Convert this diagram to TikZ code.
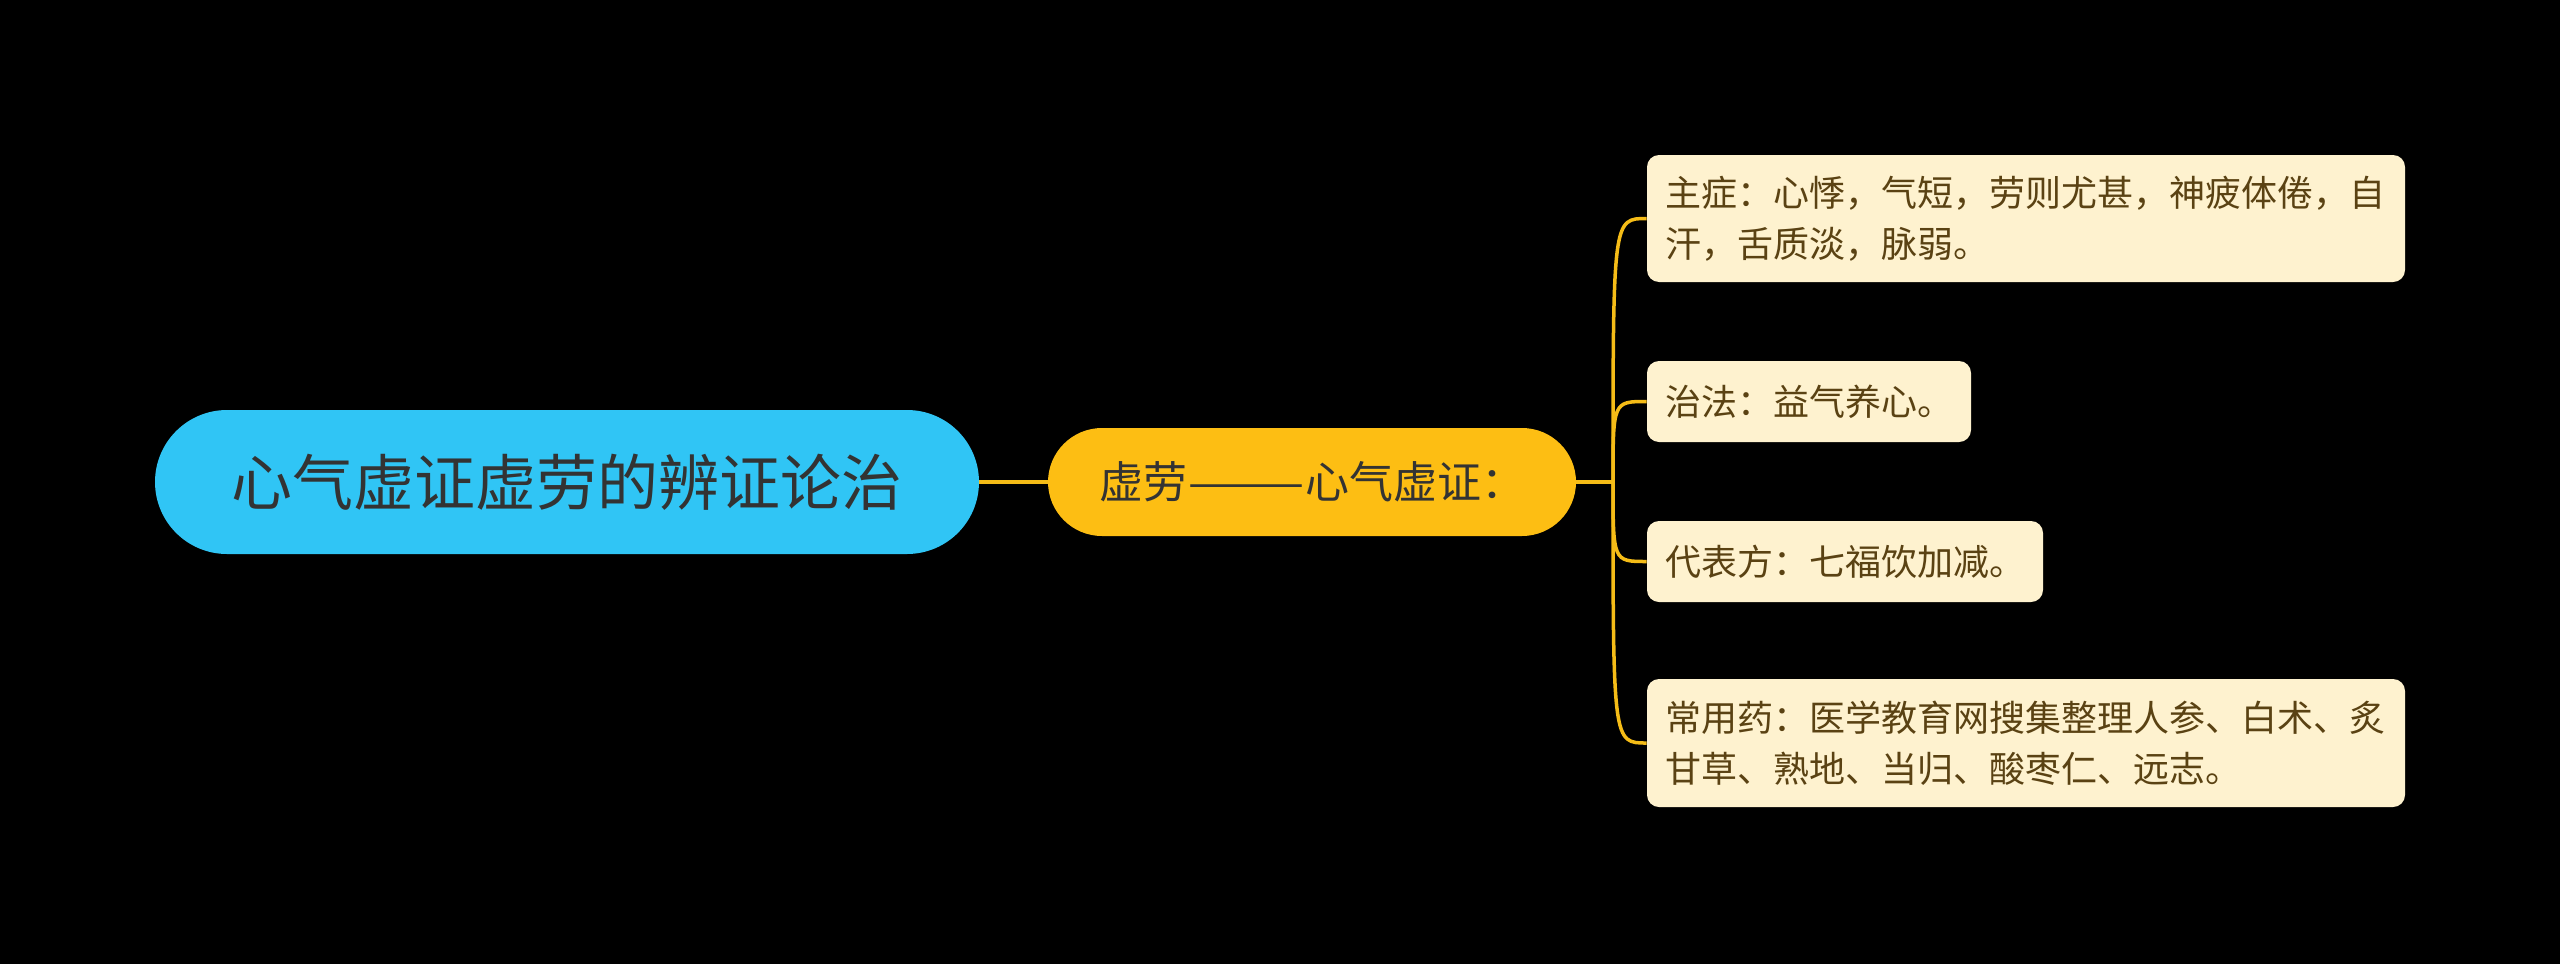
\documentclass[tikz,border=0pt]{standalone}
\usepackage{fontspec}
\newfontfamily\cjk{Noto Sans CJK SC}
\definecolor{bg}{HTML}{000000}
\definecolor{rootfill}{HTML}{30C5F5}
\definecolor{subfill}{HTML}{FDBE13}
\definecolor{leaffill}{HTML}{FEF2CF}
\definecolor{leaftext}{HTML}{5A4213}
\definecolor{darktext}{HTML}{333333}
\definecolor{linecol}{HTML}{F5BC17}
\tikzset{
  rootbox/.style={fill=rootfill, rounded corners=36pt, minimum width=412pt, minimum height=72pt,
    inner sep=0pt, text=darktext, font=\cjk\fontsize{30.5pt}{36pt}\selectfont},
  subbox/.style={fill=subfill, rounded corners=27pt, minimum width=264pt, minimum height=54pt,
    inner sep=0pt, text=darktext, font=\cjk\fontsize{22pt}{26pt}\selectfont},
  leafbox/.style={fill=leaffill, rounded corners=6pt, inner xsep=9pt, inner ysep=0pt,
    text=leaftext, align=left, font=\cjk\fontsize{18pt}{25.5pt}\selectfont},
  link/.style={draw=linecol, line width=1.75pt},
}
\begin{document}
\begin{tikzpicture}[x=0.5pt, y=-0.5pt]
\useasboundingbox[fill=bg] (0,0) rectangle (2560,964);
\node[rootbox] (root) at (567,482) {心气虚证虚劳的辨证论治};
\node[subbox] (sub) at (1312,482) {虚劳\scalebox{1.6}[1]{——}心气虚证：};
\node[leafbox, text width=361pt, minimum height=63.5pt] (l1) at (2026,218.5)
  {主症：心悸，气短，劳则尤甚，神疲体倦，自\\汗，舌质淡，脉弱。};
\node[leafbox, text width=144pt, minimum height=40.5pt] (l2) at (1809,401.5)
  {治法：益气养心。};
\node[leafbox, text width=180pt, minimum height=40.5pt] (l3) at (1845,561.5)
  {代表方：七福饮加减。};
\node[leafbox, text width=361pt, minimum height=64pt] (l4) at (2026,743)
  {常用药：医学教育网搜集整理人参、白术、炙\\甘草、熟地、当归、酸枣仁、远志。};
\coordinate (j) at (1613,482);
\draw[link] (root.east) -- (sub.west);
\draw[link] (sub.east) -- (j);
\foreach \n in {l1,l2,l3,l4}{
  \draw[link] (j) .. controls (1613,0 |- \n.west) .. (\n.west);
}
\end{tikzpicture}
\end{document}
